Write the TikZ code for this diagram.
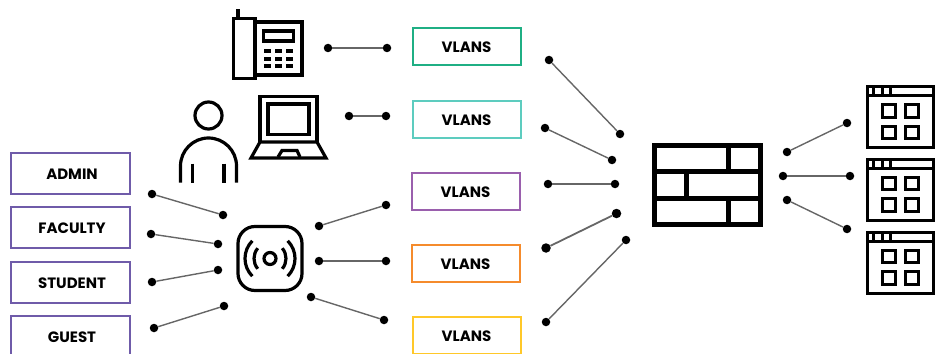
\documentclass[tikz,border=0pt]{standalone}
\usepackage{fontspec}
\setmainfont{Poppins}
\usepackage{xcolor}
\definecolor{roleviolet}{HTML}{6F5BA9}
\definecolor{vlangreen}{HTML}{1FAF84}
\definecolor{vlanteal}{HTML}{5DCCBF}
\definecolor{vlanpurple}{HTML}{9A5FAD}
\definecolor{vlanorange}{HTML}{F58B2C}
\definecolor{vlanyellow}{HTML}{FFC829}
\definecolor{linkgray}{HTML}{666666}
\tikzset{
	labelbox/.style={draw, line width=2pt, inner sep=0pt, text height=12.5pt, text depth=0pt, font=\fontsize{15}{17}\selectfont\bfseries, text=black},
	rolebox/.style={labelbox, draw=roleviolet, minimum width=119pt, minimum height=41pt, execute at begin node=\hspace*{3pt}},
	vlanbox/.style={labelbox, minimum width=108pt, minimum height=37pt},
	dot/.style={circle, fill=black, inner sep=0pt, minimum size=8.5pt},
	link/.style={linkgray, line width=1.4pt},
	icon/.style={black, line width=3.2pt},
}

\begin{document}
\begin{tikzpicture}[x=1pt, y=-1pt]
	\useasboundingbox (0,0) rectangle (941,353);

	% boxes on the left
	\node [rolebox] (admin) at (70.5,173) {ADMIN};
	\node [rolebox] (faculty) at (70.5,227.7) {FACULTY};
	\node [rolebox] (student) at (70.5,282.3) {STUDENT};
	\node [rolebox] (guest) at (70.5,336) {GUEST};

	% vlans
	\node [vlanbox, draw=vlangreen] (vlanA) at (466.5,46.2) {VLANS};
	\node [vlanbox, draw=vlanteal] (vlanB) at (466.5,119.2) {VLANS};
	\node [vlanbox, draw=vlanpurple] (vlanC) at (465.5,191.5) {VLANS};
	\node [vlanbox, draw=vlanorange] (vlanD) at (465.5,263.2) {VLANS};
	\node [vlanbox, draw=vlanyellow] (vlanE) at (466.5,335.5) {VLANS};

	% connectors
	\foreach \a/\ax/\ay/\b/\bx/\by in {
		adminL/152/194/adminR/223/215, facultyL/151/234/facultyR/218/244,
		studentL/152/282/studentR/218/270, guestL/154/328/guestR/224/306,
		phoneL/328/48/phoneR/387/48, laptopL/349/116/laptopR/386/116,
		apA/319/226/apAR/386/205, apB/319/261/apBR/386/261, apC/311/297/apCR/384/320,
		vlanAL/549/60/vlanAR/620/134, vlanBL/545/128/vlanBR/612/160,
		vlanCL/548/184/vlanCR/615/184, vlanEL/546/322/vlanER/626/240,
		fwA/787/152/appA/847/123, fwB/783/176/appB/850/176, fwC/787/200/appC/847/229} {
		\node [dot] (\a) at (\ax,\ay) {};
		\node [dot] (\b) at (\bx,\by) {};
		\draw [link] (\a) -- (\b);
	}
	\node [dot, minimum size=9.5pt] (vlanDL) at (546,248) {};
	\node [dot, minimum size=9.5pt] (vlanDR) at (616.5,213.5) {};
	\draw [link, line width=1.8pt] (vlanDL) -- (vlanDR);

	% phone
	\draw [icon] (238,17) -- (238,9);
	\draw [icon] (233.5,18.5) rectangle (255,78.5);
	\draw [icon] (255,22) -- (302,22) -- (302,75) -- (255,75);
	\draw [icon] (263.5,31) rectangle (293.5,41);
	\foreach \keyx in {267.5,278.5,289.5}
		\foreach \keyy in {51.5,59,66}
			\fill (\keyx-3.5,\keyy-2) rectangle (\keyx+3.5,\keyy+2);

	% person
	\draw [icon] (208.5,115.5) circle (13.5);
	\draw [icon] (180.5,182.7) -- (180.5,166) arc (180:360:28) -- (236.5,182.7);
	\draw [icon] (192.7,163.5) -- (192.7,182.7);
	\draw [icon] (224,163.5) -- (224,182.7);

	% laptop
	\draw [icon] (260,142) -- (260,96.5) -- (317,96.5) -- (317,142);
	\draw [icon] (268,104) rectangle (309,134.5);
	\draw [icon] (260,142) -- (317,142) -- (326,158) -- (251,158) -- cycle;
	\draw [icon] (278,157) -- (282,150.5) -- (297,150.5) -- (300,157);

	% access point
	\draw [icon, rounded corners=17pt] (238,226.5) rectangle (302,290.5);
	\draw [icon] (270,258.5) circle (6);
	\draw [icon] (270,258.5) ++(140:16) arc (140:220:16);
	\draw [icon] (270,258.5) ++(40:16) arc (40:-40:16);
	\draw [icon] (270,258.5) ++(135:25) arc (135:225:25);
	\draw [icon] (270,258.5) ++(45:25) arc (45:-45:25);

	% firewall
	\draw [black, line width=5pt] (654.5,145.8) rectangle (760.2,224.8);
	\draw [black, line width=5pt] (654.5,171.7) -- (760.2,171.7);
	\draw [black, line width=5pt] (654.5,198.3) -- (760.2,198.3);
	\draw [black, line width=5pt] (728.7,145.8) -- (728.7,171.7);
	\draw [black, line width=5pt] (686,171.7) -- (686,198.3);
	\draw [black, line width=5pt] (728.7,198.3) -- (728.7,224.8);

	% app windows
	\foreach \wy in {85,157.7,230.7} {
		\begin{scope}[yshift=-\wy pt]
			\draw [icon, line width=3pt] (867,1.3) rectangle (933,62.7);
			\draw [icon, line width=3pt] (867,10.5) -- (933,10.5);
			\foreach \tabx in {873.5,882.3,890.7}
				\draw [icon, line width=3pt] (\tabx,1.3) -- (\tabx,10.5);
			\foreach \sqx in {882,905.3}
				\foreach \sqy in {19.5,41}
					\draw [icon, line width=3pt] (\sqx,\sqy) rectangle ++(13,12.5);
		\end{scope}
	}
\end{tikzpicture}
\end{document}
